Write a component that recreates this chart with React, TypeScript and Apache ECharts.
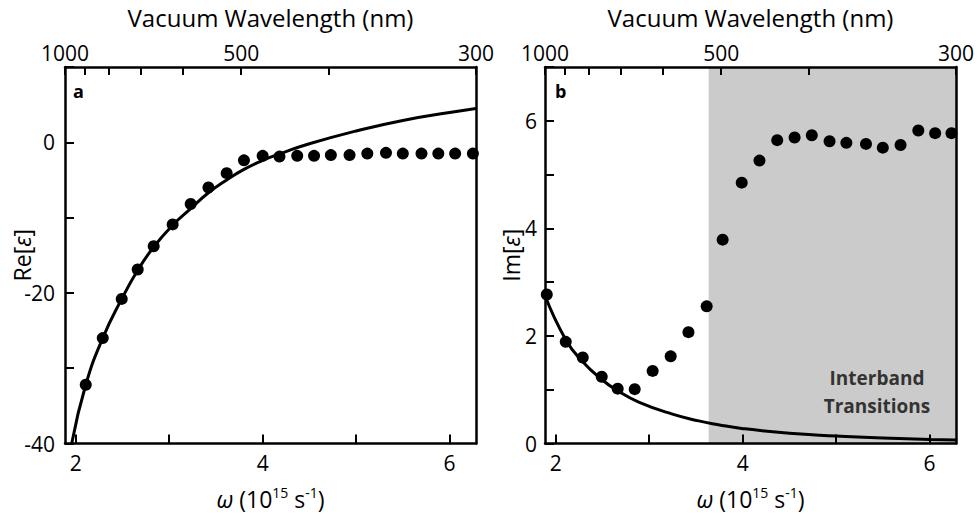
import React, { useEffect, useRef } from "react";
import * as echarts from "echarts";

// 2*pi*c in nm * 1e15 s^-1  (omega = K / lambda)
const K = 1884.9556;

// Left panel: Re[eps] measured points
const reOmega = [2.107, 2.289, 2.492, 2.663, 2.834, 3.037, 3.23, 3.42, 3.615, 3.80, 4.0, 4.18, 4.37, 4.55, 4.73, 4.93, 5.12, 5.32, 5.50, 5.70, 5.88, 6.06, 6.25];
const reValues = [-32.2, -26.0, -20.8, -16.9, -13.8, -10.9, -8.2, -6.0, -4.1, -2.4, -1.8, -1.9, -1.8, -1.8, -1.7, -1.7, -1.5, -1.4, -1.5, -1.5, -1.5, -1.5, -1.5];

// Left panel: fitted curve
const reFitOmega = [1.957, 2.107, 2.289, 2.492, 2.663, 2.834, 3.037, 3.23, 3.42, 3.615, 3.8, 4.0, 4.18, 4.5, 5.0, 5.5, 6.0, 6.283];
const reFitValues = [-40, -32.2, -26.0, -20.8, -17.0, -13.9, -11.0, -8.8, -6.7, -5.0, -3.6, -2.4, -1.55, -0.2, 1.5, 2.9, 3.95, 4.5];

// Right panel: Im[eps] measured points
const imOmega = [1.904, 2.107, 2.289, 2.492, 2.663, 2.845, 3.037, 3.23, 3.42, 3.615, 3.786, 3.99, 4.18, 4.37, 4.556, 4.74, 4.93, 5.11, 5.32, 5.50, 5.69, 5.88, 6.06, 6.235];
const imValues = [2.77, 1.89, 1.60, 1.24, 1.02, 1.01, 1.35, 1.62, 2.07, 2.55, 3.79, 4.85, 5.26, 5.64, 5.69, 5.73, 5.62, 5.59, 5.57, 5.50, 5.55, 5.82, 5.77, 5.77];

// Right panel: fitted curve
const imFitOmega = [1.885, 2.107, 2.289, 2.492, 2.663, 2.888, 3.24, 3.53, 3.74, 3.99, 4.5, 5.0, 5.5, 6.0, 6.283];
const imFitValues = [2.75, 1.93, 1.52, 1.19, 0.98, 0.77, 0.55, 0.42, 0.35, 0.28, 0.19, 0.14, 0.1, 0.075, 0.065];

// Interband region start (omega)
const interbandStart = 3.636;

// Axis ticks
const bottomTicks = [2, 3, 4, 5, 6];
const bottomLabels = [2, 4, 6];
const topTickNm = [1000, 900, 800, 700, 600, 500, 400, 300];
const topLabelNm = [1000, 500, 300];

const xMin = K / 1000;
const xMax = K / 300;

const FONT = "Open Sans";

function pairs(xs: number[], ys: number[]) {
  return xs.map((x, i) => [x, ys[i]]);
}

function bottomAxis(gridIndex: number) {
  return {
    type: "value",
    gridIndex,
    position: "bottom",
    min: xMin,
    max: xMax,
    z: 10,
    name: "{i|ω} (10{sup|15} s{sup|-1})",
    nameLocation: "middle",
    nameGap: 42,
    nameTextStyle: {
      color: "#000",
      fontFamily: FONT,
      fontSize: 23,
      rich: {
        i: { fontStyle: "italic", fontSize: 23, fontFamily: FONT, color: "#000" },
        sup: { fontSize: 14, fontFamily: FONT, color: "#000", padding: [0, 0, 12, 0] },
      },
    },
    axisLine: { show: true, onZero: false, lineStyle: { color: "#000", width: 2.5 } },
    axisTick: { show: true, inside: true, length: 9, customValues: bottomTicks, lineStyle: { color: "#000", width: 2 } },
    axisLabel: { show: true, customValues: bottomLabels, margin: 9, color: "#000", fontSize: 21, fontFamily: FONT },
    splitLine: { show: false },
  };
}

function topAxis(gridIndex: number) {
  return {
    type: "value",
    gridIndex,
    position: "top",
    min: xMin,
    max: xMax,
    z: 10,
    name: "Vacuum Wavelength (nm)",
    nameLocation: "middle",
    nameGap: 38,
    nameTextStyle: { color: "#000", fontFamily: FONT, fontSize: 24 },
    axisLine: { show: true, onZero: false, lineStyle: { color: "#000", width: 2.5 } },
    axisTick: { show: true, inside: true, length: 8, customValues: topTickNm.map((n) => K / n), lineStyle: { color: "#000", width: 2 } },
    axisLabel: {
      show: true,
      customValues: topLabelNm.map((n) => K / n),
      formatter: (v: number) => String(Math.round(K / v)),
      margin: 4,
      color: "#000",
      fontSize: 21,
      fontFamily: FONT,
    },
    splitLine: { show: false },
  };
}

function rightBorderAxis(gridIndex: number, min: number, max: number) {
  return {
    type: "value",
    gridIndex,
    position: "right",
    min,
    max,
    z: 10,
    axisLine: { show: true, onZero: false, lineStyle: { color: "#000", width: 2.5 } },
    axisTick: { show: false },
    axisLabel: { show: false },
    splitLine: { show: false },
  };
}

function yName(prefix: string) {
  return {
    name: `{n|${prefix}[}{i|ε}{n|]}`,
    nameLocation: "middle",
    nameRotate: 90,
    nameMoveOverlap: false,
    nameTextStyle: {
      color: "#000",
      fontFamily: FONT,
      fontSize: 23,
      rich: {
        n: { fontSize: 23, fontFamily: FONT, color: "#000" },
        i: { fontSize: 23, fontFamily: FONT, color: "#000", fontStyle: "italic" },
      },
    },
  };
}

export default function App() {
  const ref = useRef<HTMLDivElement>(null);

  useEffect(() => {
    if (!ref.current) return;
    const chart = echarts.init(ref.current, undefined, { renderer: "svg" });

    const option = {
      animation: false,
      backgroundColor: "#fff",
      grid: [
        { left: 65, top: 62, width: 411, height: 392 },
        { left: 545, top: 62, width: 411, height: 391 },
      ],
      xAxis: [bottomAxis(0), topAxis(0), bottomAxis(1), topAxis(1)],
      yAxis: [
        {
          type: "value",
          gridIndex: 0,
          position: "left",
          min: -40,
          max: 10,
          interval: 10,
          z: 10,
          ...yName("Re"),
          nameGap: 32,
          axisLine: { show: true, onZero: false, lineStyle: { color: "#000", width: 2.5 } },
          axisTick: { show: true, inside: true, length: 9, lineStyle: { color: "#000", width: 2 } },
          axisLabel: {
            show: true,
            margin: 10,
            color: "#000",
            fontSize: 21,
            fontFamily: FONT,
            formatter: (v: number) => (v % 20 === 0 && v <= 0 ? String(v) : ""),
          },
          splitLine: { show: false },
        },
        rightBorderAxis(0, -40, 10),
        {
          type: "value",
          gridIndex: 1,
          position: "left",
          min: 0,
          max: 7,
          interval: 1,
          z: 10,
          ...yName("Im"),
          nameGap: 23,
          axisLine: { show: true, onZero: false, lineStyle: { color: "#000", width: 2.5 } },
          axisTick: { show: true, inside: true, length: 9, lineStyle: { color: "#000", width: 2 } },
          axisLabel: {
            show: true,
            margin: 8,
            color: "#000",
            fontSize: 21,
            fontFamily: FONT,
            formatter: (v: number) => (v % 2 === 0 && v < 7 ? String(v) : ""),
          },
          splitLine: { show: false },
        },
        rightBorderAxis(1, 0, 7),
      ],
      graphic: [
        { type: "text", left: 73, top: 82, style: { text: "a", fontSize: 18, fontWeight: "bold", fontFamily: FONT, fill: "#000" } },
        { type: "text", left: 555, top: 82, style: { text: "b", fontSize: 18, fontWeight: "bold", fontFamily: FONT, fill: "#000" } },
        {
          type: "text",
          x: 877,
          y: 392,
          z: 20,
          style: {
            text: "Interband\nTransitions",
            fontSize: 19,
            fontWeight: "bold",
            fontFamily: FONT,
            fill: "#333",
            align: "center",
            verticalAlign: "middle",
            lineHeight: 28,
          },
        },
      ],
      series: [
        {
          type: "line",
          xAxisIndex: 0,
          yAxisIndex: 0,
          data: pairs(reFitOmega, reFitValues),
          smooth: true,
          showSymbol: false,
          symbol: "none",
          lineStyle: { color: "#000", width: 3 },
          z: 3,
        },
        {
          type: "scatter",
          xAxisIndex: 0,
          yAxisIndex: 0,
          data: pairs(reOmega, reValues),
          symbol: "circle",
          symbolSize: 12,
          itemStyle: { color: "#000", opacity: 1 },
          z: 4,
        },
        {
          type: "line",
          xAxisIndex: 2,
          yAxisIndex: 2,
          data: pairs(imFitOmega, imFitValues),
          smooth: true,
          showSymbol: false,
          symbol: "none",
          lineStyle: { color: "#000", width: 3 },
          z: 3,
          markArea: {
            silent: true,
            itemStyle: { color: "#cbcbcb" },
            data: [[{ xAxis: interbandStart }, { xAxis: xMax }]],
          },
        },
        {
          type: "scatter",
          xAxisIndex: 2,
          yAxisIndex: 2,
          data: pairs(imOmega, imValues),
          symbol: "circle",
          symbolSize: 12,
          itemStyle: { color: "#000", opacity: 1 },
          z: 4,
        },
      ],
    };

    chart.setOption(option as any);
    return () => chart.dispose();
  }, []);

  return <div ref={ref} style={{ position: "absolute", left: 0, top: 0, width: 979, height: 515 }} />;
}
